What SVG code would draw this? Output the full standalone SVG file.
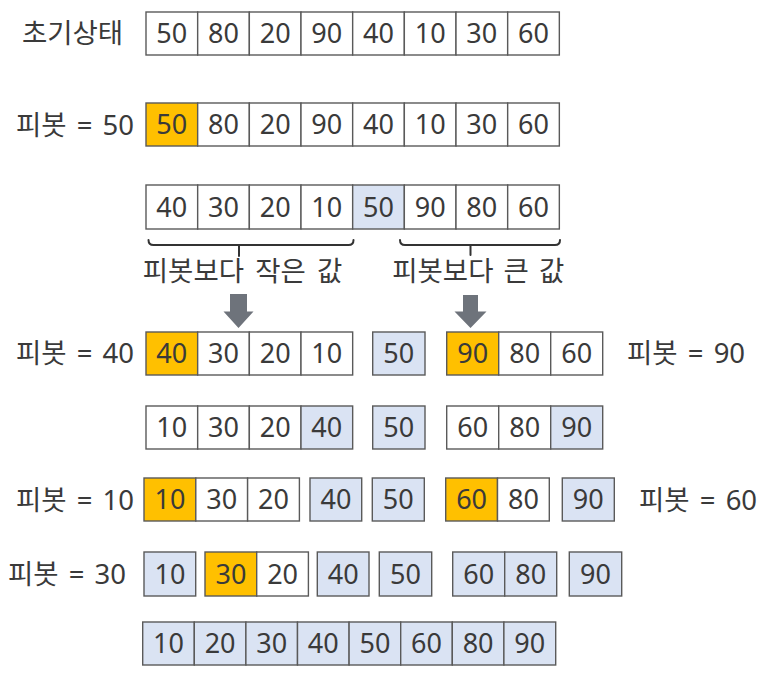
<svg xmlns="http://www.w3.org/2000/svg" width="783" height="674" viewBox="0 0 783 674">
<style>
  text { font-family: "Noto Sans", "Noto Sans CJK KR", sans-serif; fill: #3a3a3a; }
  .n { font-size: 27px; text-anchor: middle; }
  .lb { font-size: 27.5px; }
  .pv { word-spacing: 3px; }
  .w { fill: #ffffff; stroke: #5a5a5a; stroke-width: 1.4; }
  .p { fill: #ffc000; stroke: #5a5a5a; stroke-width: 1.4; }
  .b { fill: #dae3f3; stroke: #5a5a5a; stroke-width: 1.4; }
  .br { fill: none; stroke: #333333; stroke-width: 2; stroke-linecap: round; }
  .ar { fill: #6e737b; }
</style>
<rect width="783" height="674" fill="#ffffff"/>

<!-- Row 1: 초기상태 -->
<g id="row1">
  <text class="lb" x="72.5" y="43" text-anchor="middle">초기상태</text>
  <g id="row1-array">
    <rect class="w" x="146" y="12" width="51.67" height="43"/><text class="n" x="171.8" y="43">50</text>
    <rect class="w" x="197.67" y="12" width="51.67" height="43"/><text class="n" x="223.5" y="43">80</text>
    <rect class="w" x="249.33" y="12" width="51.67" height="43"/><text class="n" x="275.2" y="43">20</text>
    <rect class="w" x="301" y="12" width="51.67" height="43"/><text class="n" x="326.8" y="43">90</text>
    <rect class="w" x="352.67" y="12" width="51.67" height="43"/><text class="n" x="378.5" y="43">40</text>
    <rect class="w" x="404.33" y="12" width="51.67" height="43"/><text class="n" x="430.2" y="43">10</text>
    <rect class="w" x="456" y="12" width="51.67" height="43"/><text class="n" x="481.8" y="43">30</text>
    <rect class="w" x="507.67" y="12" width="51.67" height="43"/><text class="n" x="533.5" y="43">60</text>
  </g>
</g>

<!-- Row 2: 피봇 = 50 -->
<g id="row2">
  <text class="lb pv" x="134" y="134.5" text-anchor="end">피봇 = 50</text>
  <g id="row2-array">
    <rect class="p" x="146" y="103" width="51.67" height="43"/><text class="n" x="171.8" y="134">50</text>
    <rect class="w" x="197.67" y="103" width="51.67" height="43"/><text class="n" x="223.5" y="134">80</text>
    <rect class="w" x="249.33" y="103" width="51.67" height="43"/><text class="n" x="275.2" y="134">20</text>
    <rect class="w" x="301" y="103" width="51.67" height="43"/><text class="n" x="326.8" y="134">90</text>
    <rect class="w" x="352.67" y="103" width="51.67" height="43"/><text class="n" x="378.5" y="134">40</text>
    <rect class="w" x="404.33" y="103" width="51.67" height="43"/><text class="n" x="430.2" y="134">10</text>
    <rect class="w" x="456" y="103" width="51.67" height="43"/><text class="n" x="481.8" y="134">30</text>
    <rect class="w" x="507.67" y="103" width="51.67" height="43"/><text class="n" x="533.5" y="134">60</text>
  </g>
</g>

<!-- Row 3: partitioned -->
<g id="row3">
  <rect class="w" x="146" y="185" width="51.67" height="44"/><text class="n" x="171.8" y="216.6">40</text>
  <rect class="w" x="197.67" y="185" width="51.67" height="44"/><text class="n" x="223.5" y="216.6">30</text>
  <rect class="w" x="249.33" y="185" width="51.67" height="44"/><text class="n" x="275.2" y="216.6">20</text>
  <rect class="w" x="301" y="185" width="51.67" height="44"/><text class="n" x="326.8" y="216.6">10</text>
  <rect class="b" x="352.67" y="185" width="51.67" height="44"/><text class="n" x="378.5" y="216.6">50</text>
  <rect class="w" x="404.33" y="185" width="51.67" height="44"/><text class="n" x="430.2" y="216.6">90</text>
  <rect class="w" x="456" y="185" width="51.67" height="44"/><text class="n" x="481.8" y="216.6">80</text>
  <rect class="w" x="507.67" y="185" width="51.67" height="44"/><text class="n" x="533.5" y="216.6">60</text>
</g>

<g id="labels-partition">
  <text class="lb" x="242.5" y="281" text-anchor="middle" word-spacing="4">피봇보다 작은 값</text>
  <text class="lb" x="478.3" y="281" text-anchor="middle" word-spacing="3">피봇보다 큰 값</text>
</g>

<!-- Connectors: brackets and arrows -->
<g id="connectors">
  <path class="br" d="M148.5,240 Q148.5,245 153.5,245 H348.5 Q353.5,245 353.5,240 M239,245 V256"/>
  <path class="br" d="M400,240 Q400,245 405,245 H555 Q560,245 560,240 M470.5,245 V255"/>
  <polygon class="ar" points="230,294 247,294 247,311.5 253.5,311.5 238.5,328 223.5,311.5 230,311.5"/>
  <polygon class="ar" points="463,295 478,295 478,311.5 486.5,311.5 470.5,328 454.5,311.5 463,311.5"/>
</g>

<!-- Row 4: 피봇 = 40 / 피봇 = 90 -->
<g id="row4">
  <text class="lb pv" x="134" y="363" text-anchor="end">피봇 = 40</text>
  <g id="row4-left">
    <rect class="p" x="146" y="332" width="51.67" height="43"/><text class="n" x="171.8" y="362.6">40</text>
    <rect class="w" x="197.67" y="332" width="51.67" height="43"/><text class="n" x="223.5" y="362.6">30</text>
    <rect class="w" x="249.33" y="332" width="51.67" height="43"/><text class="n" x="275.2" y="362.6">20</text>
    <rect class="w" x="301" y="332" width="51.67" height="43"/><text class="n" x="326.8" y="362.6">10</text>
  </g>
  <g id="row4-mid">
    <rect class="b" x="372.7" y="332" width="52.3" height="43"/><text class="n" x="398.8" y="362.6">50</text>
  </g>
  <g id="row4-right">
    <rect class="p" x="446.7" y="332" width="52" height="43"/><text class="n" x="472.7" y="362.6">90</text>
    <rect class="w" x="498.7" y="332" width="52" height="43"/><text class="n" x="524.7" y="362.6">80</text>
    <rect class="w" x="550.7" y="332" width="52" height="43"/><text class="n" x="576.7" y="362.6">60</text>
  </g>
  <text class="lb pv" x="627" y="363">피봇 = 90</text>
</g>

<!-- Row 5 -->
<g id="row5">
  <g id="row5-left">
    <rect class="w" x="146" y="406" width="51.67" height="43"/><text class="n" x="171.8" y="437">10</text>
    <rect class="w" x="197.67" y="406" width="51.67" height="43"/><text class="n" x="223.5" y="437">30</text>
    <rect class="w" x="249.33" y="406" width="51.67" height="43"/><text class="n" x="275.2" y="437">20</text>
    <rect class="b" x="301" y="406" width="51.67" height="43"/><text class="n" x="326.8" y="437">40</text>
  </g>
  <g id="row5-mid">
    <rect class="b" x="372.7" y="406" width="52.3" height="43"/><text class="n" x="398.8" y="437">50</text>
  </g>
  <g id="row5-right">
    <rect class="w" x="446.7" y="406" width="52" height="43"/><text class="n" x="472.7" y="437">60</text>
    <rect class="w" x="498.7" y="406" width="52" height="43"/><text class="n" x="524.7" y="437">80</text>
    <rect class="b" x="550.7" y="406" width="52" height="43"/><text class="n" x="576.7" y="437">90</text>
  </g>
</g>

<!-- Row 6: 피봇 = 10 / 피봇 = 60 -->
<g id="row6">
  <text class="lb pv" x="134" y="509.5" text-anchor="end">피봇 = 10</text>
  <g id="row6-a">
    <rect class="p" x="144" y="478" width="51.8" height="43"/><text class="n" x="169.9" y="509">10</text>
    <rect class="w" x="195.8" y="478" width="51.8" height="43"/><text class="n" x="221.7" y="509">30</text>
    <rect class="w" x="247.6" y="478" width="51.8" height="43"/><text class="n" x="273.5" y="509">20</text>
  </g>
  <g id="row6-b">
    <rect class="b" x="310" y="478" width="51.7" height="43"/><text class="n" x="335.9" y="509">40</text>
  </g>
  <g id="row6-c">
    <rect class="b" x="372.3" y="478" width="52" height="43"/><text class="n" x="398.3" y="509">50</text>
  </g>
  <g id="row6-d">
    <rect class="p" x="445.7" y="478" width="51.8" height="43"/><text class="n" x="471.6" y="509">60</text>
    <rect class="w" x="497.5" y="478" width="51.8" height="43"/><text class="n" x="523.4" y="509">80</text>
  </g>
  <g id="row6-e">
    <rect class="b" x="562.3" y="478" width="52" height="43"/><text class="n" x="588.3" y="509">90</text>
  </g>
  <text class="lb pv" x="639" y="509.5">피봇 = 60</text>
</g>

<!-- Row 7: 피봇 = 30 -->
<g id="row7">
  <text class="lb pv" x="126" y="583.5" text-anchor="end">피봇 = 30</text>
  <g id="row7-a">
    <rect class="b" x="144" y="552" width="51.7" height="44"/><text class="n" x="169.9" y="583.6">10</text>
  </g>
  <g id="row7-b">
    <rect class="p" x="205" y="552" width="51.7" height="44"/><text class="n" x="230.9" y="583.6">30</text>
    <rect class="w" x="256.7" y="552" width="51.7" height="44"/><text class="n" x="282.6" y="583.6">20</text>
  </g>
  <g id="row7-c">
    <rect class="b" x="317.3" y="552" width="51.7" height="44"/><text class="n" x="343.2" y="583.6">40</text>
  </g>
  <g id="row7-d">
    <rect class="b" x="379.3" y="552" width="52.4" height="44"/><text class="n" x="405.5" y="583.6">50</text>
  </g>
  <g id="row7-e">
    <rect class="b" x="452.7" y="552" width="52" height="44"/><text class="n" x="478.7" y="583.6">60</text>
    <rect class="b" x="504.7" y="552" width="52" height="44"/><text class="n" x="530.7" y="583.6">80</text>
  </g>
  <g id="row7-f">
    <rect class="b" x="569.3" y="552" width="52.4" height="44"/><text class="n" x="595.5" y="583.6">90</text>
  </g>
</g>

<!-- Row 8: sorted -->
<g id="row8">
  <rect class="b" x="142.7" y="622" width="51.6" height="43"/><text class="n" x="168.5" y="653">10</text>
  <rect class="b" x="194.3" y="622" width="51.6" height="43"/><text class="n" x="220.1" y="653">20</text>
  <rect class="b" x="245.9" y="622" width="51.6" height="43"/><text class="n" x="271.7" y="653">30</text>
  <rect class="b" x="297.5" y="622" width="51.6" height="43"/><text class="n" x="323.3" y="653">40</text>
  <rect class="b" x="349.1" y="622" width="51.6" height="43"/><text class="n" x="374.9" y="653">50</text>
  <rect class="b" x="400.7" y="622" width="51.6" height="43"/><text class="n" x="426.5" y="653">60</text>
  <rect class="b" x="452.3" y="622" width="51.6" height="43"/><text class="n" x="478.1" y="653">80</text>
  <rect class="b" x="503.9" y="622" width="51.8" height="43"/><text class="n" x="529.8" y="653">90</text>
</g>
</svg>
